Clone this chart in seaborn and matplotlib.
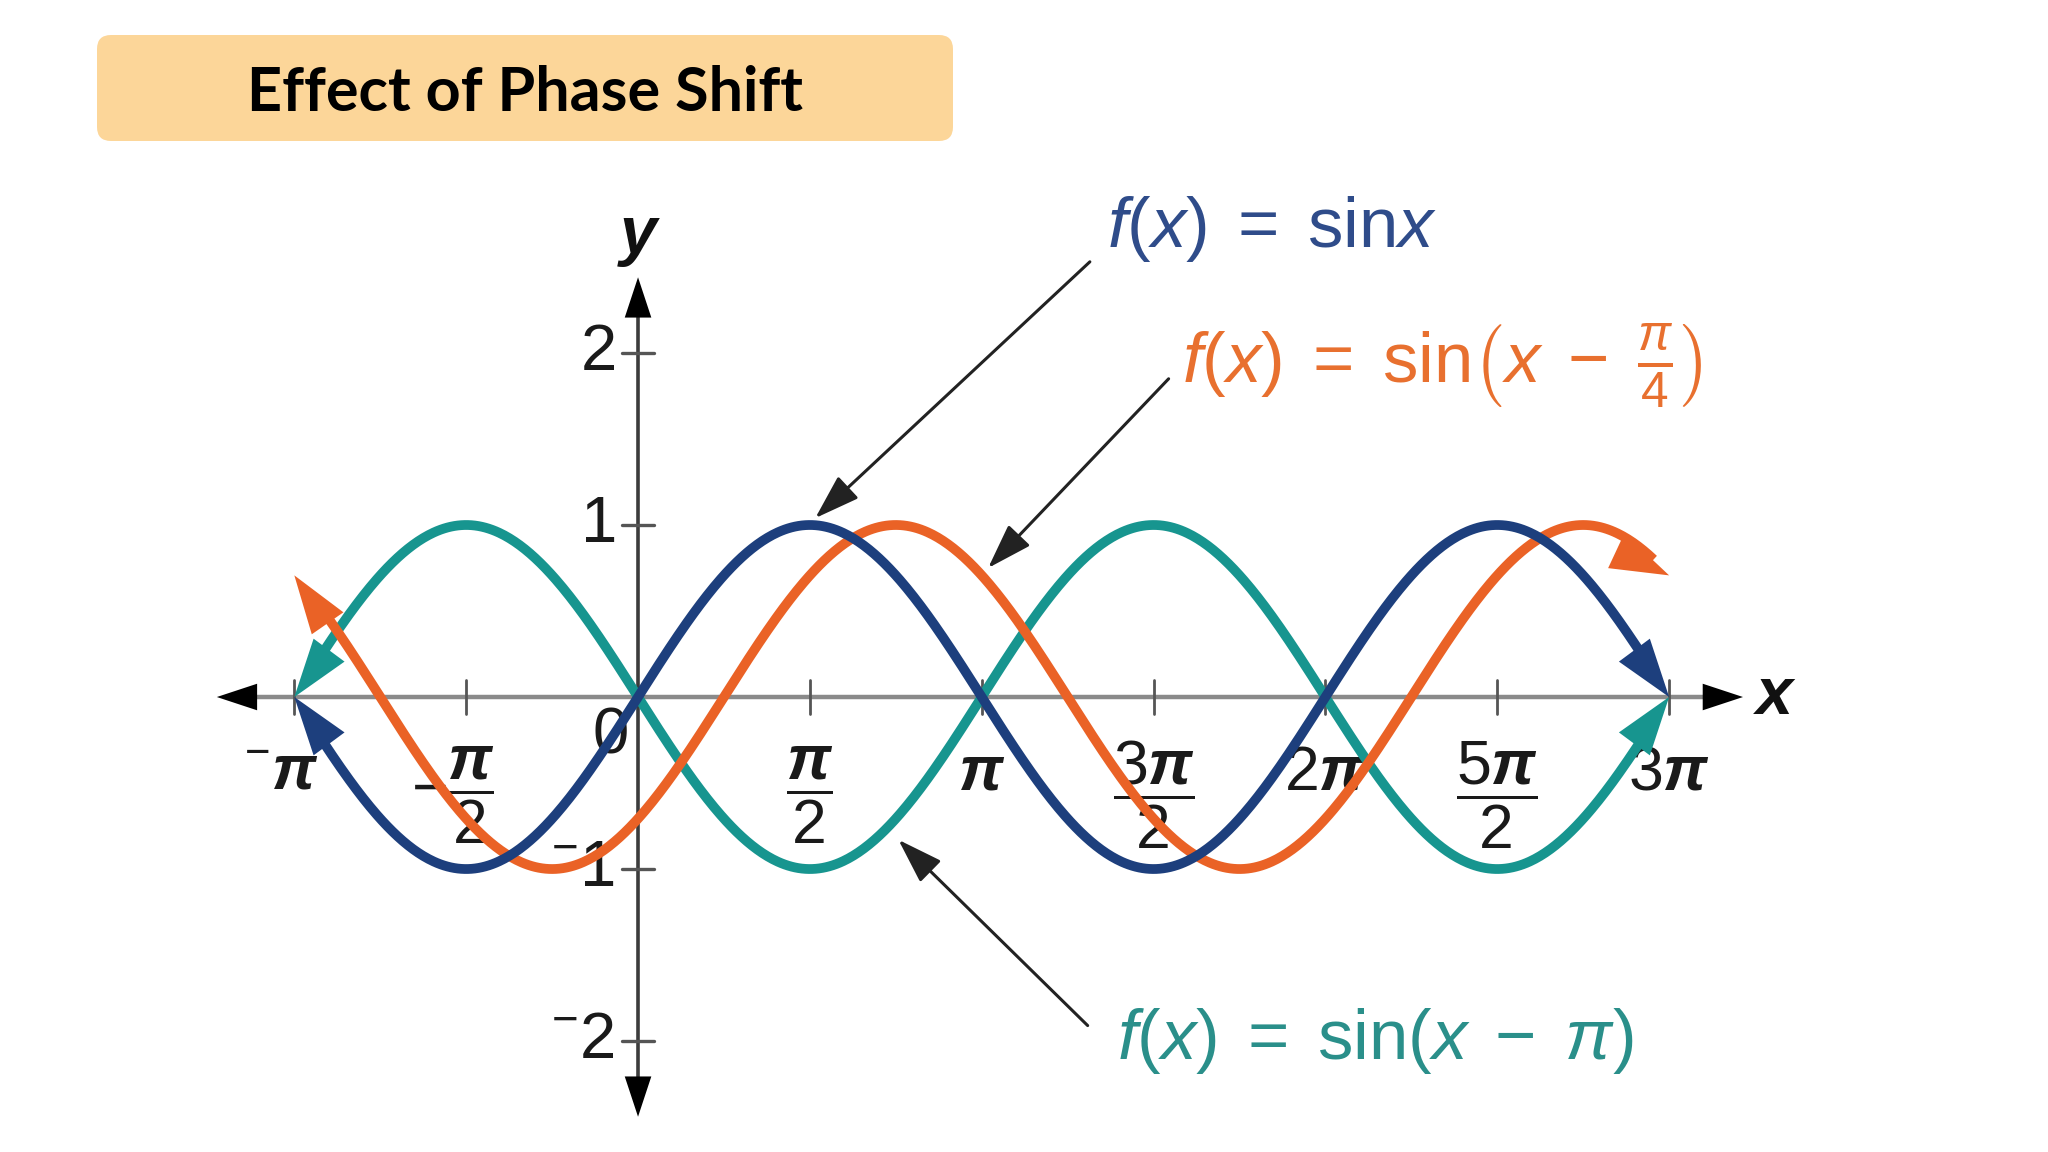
import numpy as np
import pandas as pd
import matplotlib
matplotlib.use("Agg")
import matplotlib.pyplot as plt
import seaborn as sns
from matplotlib.patches import FancyBboxPatch
from matplotlib.transforms import IdentityTransform

# ---------------- data ----------------
title_text = "Effect of Phase Shift"
series_names = ["sin x", "sin(x - pi/4)", "sin(x - pi)"]
phase_shifts = [0.0, np.pi / 4, np.pi]
x_domain = [-np.pi, 3 * np.pi]                   # curves drawn from -pi to 3pi
line_colors = ["#1d3f7d", "#ea6226", "#17958f"]
text_colors = ["#2f4c8a", "#e8702f", "#2a8f8a"]
series_labels = [
    r"$f(x)\;=\;\mathrm{sin}x$",
    r"$f(x)\;=\;\mathrm{sin}\left(x\;-\;\frac{\pi}{4}\right)$",
    r"$f(x)\;=\;\mathrm{sin}(x\;-\;\pi)$",
]
xtick_values = [-np.pi, -np.pi / 2, np.pi / 2, np.pi, 3 * np.pi / 2,
                2 * np.pi, 5 * np.pi / 2, 3 * np.pi]
xtick_labels = [r"${}^{-}\mathbf{\pi}$", r"$-\dfrac{\mathbf{\pi}}{2}$",
                r"$\dfrac{\mathbf{\pi}}{2}$", r"$\mathbf{\pi}$",
                r"$\dfrac{3\mathbf{\pi}}{2}$", r"$2\mathbf{\pi}$",
                r"$\dfrac{5\mathbf{\pi}}{2}$", r"$3\mathbf{\pi}$"]
ytick_values = [-2, -1, 1, 2]
ytick_labels = [r"${}^{-}2$", r"${}^{-}1$", r"$1$", r"$2$"]

# ---------------- style ----------------
sns.set_theme(style="white")
plt.rcParams["font.family"] = ["Liberation Sans", "DejaVu Sans"]
plt.rcParams["mathtext.fontset"] = "custom"
plt.rcParams["mathtext.rm"] = "Liberation Sans"
plt.rcParams["mathtext.it"] = "Liberation Sans:italic"
plt.rcParams["mathtext.bf"] = "Liberation Sans:italic:bold"

fig = plt.figure(figsize=(20.48, 11.52), dpi=100)
fig.patch.set_facecolor("white")
ax = fig.add_axes([0, 0, 1, 1])
ax.set_xlim(-5.832, 12.888)
ax.set_ylim(-2.645, 4.052)
ax.axis("off")

# ---------------- curves ----------------
xs = np.linspace(x_domain[0], x_domain[1], 800)
frames = []
for name, shift in zip(series_names, phase_shifts):
    frames.append(pd.DataFrame({"x": xs, "y": np.sin(xs - shift), "series": name}))
df = pd.concat(frames, ignore_index=True)
trim = 0.14
df_draw = df[(df.x > x_domain[0] + trim) & (df.x < x_domain[1] - trim)]

order = [2, 1, 0]  # teal bottom, orange, navy top
for i in order:
    sub = df_draw[df_draw.series == series_names[i]]
    sns.lineplot(data=sub, x="x", y="y", color=line_colors[i], lw=7.0,
                 sort=False, estimator=None, ax=ax, legend=False, zorder=5 + (2 - i),
                 solid_capstyle="butt")
    # arrowheads at both ends
    full = df[df.series == series_names[i]]
    fx, fy = full.x.values, full.y.values
    for tip_idx, back_idx in [(0, 60), (len(fx) - 1, len(fx) - 61)]:
        ax.annotate("", xy=(fx[tip_idx], fy[tip_idx]), xytext=(fx[back_idx], fy[back_idx]),
                    arrowprops=dict(arrowstyle="-|>,head_length=1.0,head_width=0.33",
                                    color=line_colors[i], lw=0, mutation_scale=42,
                                    shrinkA=0, shrinkB=0),
                    zorder=6 + (2 - i))

# ---------------- axes lines ----------------
ax.plot([-3.75, 10.0], [0, 0], color="#8a8a8a", lw=3.2, zorder=2, solid_capstyle="butt")
ax.plot([0, 0], [-2.35, 2.35], color="#3c3c3c", lw=2.6, zorder=2, solid_capstyle="butt")
head = dict(arrowstyle="-|>,head_length=1.0,head_width=0.33", color="black",
            lw=0, mutation_scale=29, shrinkA=0, shrinkB=0)
ax.annotate("", xy=(-3.85, 0), xytext=(-3.3, 0), arrowprops=head, zorder=3)
ax.annotate("", xy=(10.10, 0), xytext=(9.5, 0), arrowprops=head, zorder=3)
ax.annotate("", xy=(0, 2.44), xytext=(0, 2.0), arrowprops=head, zorder=3)
ax.annotate("", xy=(0, -2.44), xytext=(0, -2.0), arrowprops=head, zorder=3)
ax.text(10.22, 0.0, "x", fontsize=48, fontstyle="italic", fontweight="bold",
        ha="left", va="center", color="#111111", zorder=3)
ax.text(0.0, 2.68, "y", fontsize=48, fontstyle="italic", fontweight="bold",
        ha="center", va="center", color="#111111", zorder=3)

# ticks
for xv in xtick_values:
    ax.plot([xv, xv], [-0.1, 0.1], color="#555555", lw=2.0, zorder=2)
for yv in ytick_values:
    ax.plot([-0.15, 0.15], [yv, yv], color="#555555", lw=2.4, zorder=2)

# tick labels
for xv, lab in zip(xtick_values, xtick_labels):
    if "frac" in lab:
        xoff = -0.12 if lab.startswith(r"$-") else 0.0
        ax.text(xv + xoff, -0.57, lab, fontsize=45, ha="center", va="center",
                color="#1a1a1a", zorder=1)
    else:
        xoff = -0.12 if "{}^" in lab else 0.0
        ax.text(xv + xoff, -0.44, lab, fontsize=45, ha="center", va="center",
                color="#1a1a1a", zorder=1)
for yv, lab in zip(ytick_values, ytick_labels):
    ax.text(-0.21, yv, lab, fontsize=47, ha="right", va="center",
            color="#1a1a1a", zorder=1)
ax.text(-0.25, -0.23, "0", fontsize=47, ha="center", va="center",
        color="#1a1a1a", zorder=1)

# ---------------- function labels with pointer arrows ----------------
label_pos = [(4.29, 2.72), (4.97, 1.92), (4.38, -2.0)]
arrow_start = [(4.13, 2.53), (4.85, 1.85), (4.11, -1.91)]
arrow_tip = [(1.62, 1.04), (3.20, 0.75), (2.38, -0.83)]
for i in range(3):
    ax.text(label_pos[i][0], label_pos[i][1], series_labels[i], fontsize=51,
            color=text_colors[i], ha="left", va="center", zorder=10)
    ax.annotate("", xy=arrow_tip[i], xytext=arrow_start[i],
                arrowprops=dict(arrowstyle="-|>,head_length=1.0,head_width=0.33",
                                color="#222222", lw=2.2, mutation_scale=28,
                                shrinkA=0, shrinkB=0),
                zorder=10)

# ---------------- title box ----------------
box = FancyBboxPatch((97, 1152 - 141), 856, 106,
                     boxstyle="round,pad=0,rounding_size=14",
                     transform=IdentityTransform(), facecolor="#fcd699",
                     edgecolor="none", zorder=0)
fig.add_artist(box)
fig.text(525 / 2048, 1 - 93 / 1152, title_text, fontsize=44, fontweight="bold",
         family=["Lato", "DejaVu Sans"], ha="center", va="center", color="black")

fig.savefig("out.png", dpi=100, facecolor="white")
